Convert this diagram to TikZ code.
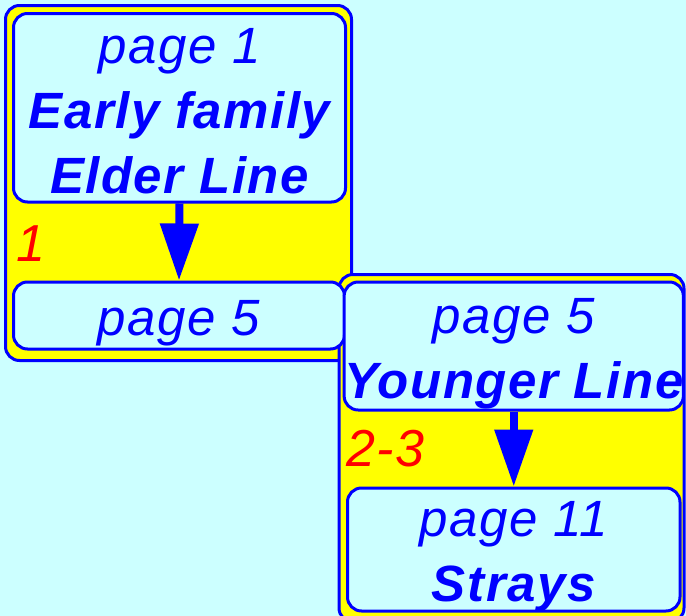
\documentclass[tikz,border=0pt]{standalone}
\usepackage{fontspec}
\setmainfont{Liberation Sans}[LetterSpace=3]
\usetikzlibrary{arrows.meta}
\definecolor{bgcyan}{RGB}{204,255,255}
\definecolor{gvblue}{RGB}{0,0,255}
\definecolor{gvyellow}{RGB}{255,255,0}
\definecolor{gvred}{RGB}{255,0,0}
\begin{document}
\begin{tikzpicture}[x=1pt,y=-1pt,
  cluster/.style={draw=gvblue,fill=gvyellow,line width=3pt,rounded corners=14pt,inner sep=0pt},
  gvbox/.style={draw=gvblue,fill=bgcyan,line width=3pt,rounded corners=14pt,inner sep=0pt,
    align=center,text=gvblue,font=\fontsize{51}{65}\selectfont\itshape},
  gvedge/.style={draw=gvblue,line width=8pt,-{Triangle[width=37pt,length=57pt]}},
  clabel/.style={text=gvred,font=\fontsize{52}{60}\selectfont\itshape,inner sep=0pt,anchor=base west}]
\useasboundingbox (0,0) rectangle (686,616);
\fill[bgcyan] (0,0) rectangle (686,616);
\clip (0,0) rectangle (686,616);
% clusters
\node[cluster,minimum width=346pt,minimum height=355pt] (c1) at (178.5,183) {};
\node[cluster,minimum width=345pt,minimum height=347.5pt] (c2) at (511.5,448.25) {};
% cluster 1 content
\node[gvbox,minimum width=332pt,minimum height=188.5pt,text height=170.5pt,text depth=0pt]
  (a) at (179.5,107.75) {page 1\\\textbf{Early family}\\\textbf{Elder Line}};
\node[gvbox,minimum width=331pt,minimum height=67pt,text height=39pt,text depth=0pt]
  (b) at (179,315.5) {page 5};
\draw[gvedge] (a.south) -- (b.north);
\node[clabel] (l1) at (16,261) {1};
% cluster 2 content
\node[gvbox,minimum width=332.5pt,minimum height=128pt,text height=104pt,text depth=0pt]
  (c) at (513.75,346) {page 5\\\textbf{Younger Line}};
\node[gvbox,minimum width=332.5pt,minimum height=123pt,text height=103pt,text depth=0pt]
  (d) at (513.75,549.5) {page 11\\\textbf{Strays}};
\draw[gvedge] (c.south) -- (d.north);
\node[clabel] (l2) at (346,466) {2-3};
\end{tikzpicture}
\end{document}
